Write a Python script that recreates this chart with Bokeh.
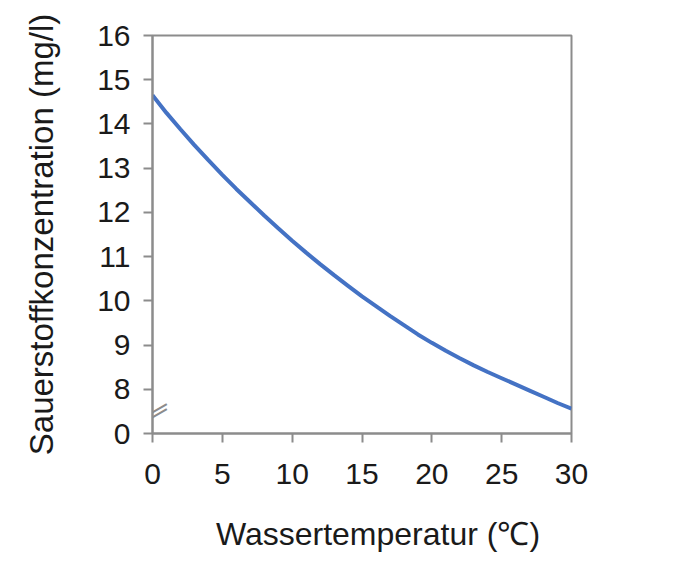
from bokeh.plotting import figure
from bokeh.models import FixedTicker, Range1d, Label
from bokeh.embed import file_html
from bokeh.resources import INLINE

# data
temperature = [0, 1, 2, 3, 4, 5, 6, 7, 8, 9, 10, 11, 12, 13, 14, 15,
               16, 17, 18, 19, 20, 21, 22, 23, 24, 25, 26, 27, 28, 29, 30]
oxygen = [14.65, 14.25, 13.88, 13.52, 13.18, 12.85, 12.53, 12.23, 11.93, 11.64,
          11.36, 11.09, 10.83, 10.58, 10.34, 10.10, 9.88, 9.66, 9.45, 9.24,
          9.05, 8.87, 8.70, 8.54, 8.39, 8.25, 8.11, 7.97, 7.83, 7.69, 7.56]
x_ticks = [0, 5, 10, 15, 20, 25, 30]
y_ticks = [7, 8, 9, 10, 11, 12, 13, 14, 15, 16]
y_tick_labels = {7: "0"}   # axis break: bottom tick shows 0

FONT = "Liberation Sans"
AXIS_COL = "#8c8c8c"
TEXT_COL = "#1a1a1a"

p = figure(width=665, height=557, output_backend="svg", toolbar_location=None,
           x_range=Range1d(0, 30), y_range=Range1d(7, 16),
           min_border_left=152, min_border_right=94,
           min_border_top=35, min_border_bottom=124)
p.background_fill_color = "white"
p.border_fill_color = "white"
p.outline_line_color = AXIS_COL
p.outline_line_width = 2
p.grid.visible = False

p.line(temperature, oxygen, line_color="#4472c4", line_width=4)

for ax in (p.xaxis[0], p.yaxis[0]):
    ax.axis_line_color = AXIS_COL
    ax.axis_line_width = 2
    ax.major_tick_line_color = AXIS_COL
    ax.major_tick_line_width = 2
    ax.major_tick_out = 9
    ax.major_tick_in = 0
    ax.minor_tick_line_color = None
    ax.major_label_text_font = FONT
    ax.major_label_text_font_size = "30px"
    ax.major_label_text_color = TEXT_COL
    ax.axis_label_text_font = FONT
    ax.axis_label_text_font_size = "32px"
    ax.axis_label_text_font_style = "normal"
    ax.axis_label_text_color = TEXT_COL

p.yaxis.axis_label_text_font_size = "33px"
p.xaxis.ticker = FixedTicker(ticks=x_ticks)
p.yaxis.ticker = FixedTicker(ticks=y_ticks)
p.yaxis.major_label_overrides = y_tick_labels
p.xaxis.axis_label = "\u2003Wassertemperatur (\u2103)"
p.yaxis.axis_label = "Sauerstoffkonzentration (mg/l)"
p.xaxis.major_label_standoff = 21
p.yaxis.major_label_standoff = 13
p.xaxis.axis_label_standoff = 29
p.yaxis.axis_label_standoff = 34

# axis break marks (two short slanted strokes across the y axis)
for off in (-2.5, 2.5):
    p.add_layout(Label(x=1, y=22 + off, x_units="screen", y_units="screen",
                       text="\u2014",
                       text_font=FONT, text_font_size="28px",
                       text_color=AXIS_COL, text_align="center",
                       text_baseline="middle", angle=0.52))

open("out.html", "w").write(file_html(p, INLINE))
